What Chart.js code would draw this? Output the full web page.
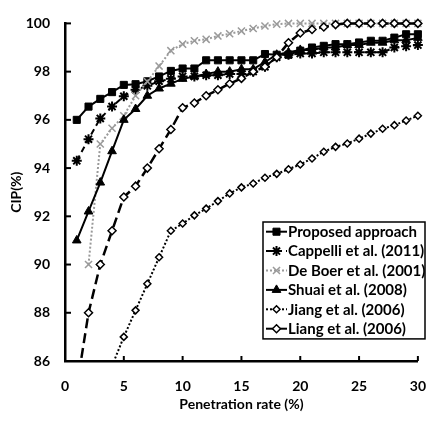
<!DOCTYPE html>
<html>
<head>
<meta charset="utf-8">
<script src="https://cdn.jsdelivr.net/npm/chart.js@4/dist/chart.umd.min.js"></script>
<style>
  html, body { margin: 0; padding: 0; background: #fff; }
</style>
</head>
<body>
<canvas id="chart" width="443" height="421"></canvas>
<script>
// penetration rate (%) on the x axis
const penetration = [1, 2, 3, 4, 5, 6, 7, 8, 9, 10, 11, 12, 13, 14, 15, 16, 17, 18, 19, 20, 21, 22, 23, 24, 25, 26, 27, 28, 29, 30];

// CIP (%) per method
const proposed = [96.0, 96.55, 96.87, 97.15, 97.45, 97.48, 97.6, 97.8, 98.03, 98.13, 98.13, 98.47, 98.47, 98.47, 98.47, 98.47, 98.73, 98.7, 98.7, 98.87, 99.0, 99.07, 99.14, 99.14, 99.21, 99.28, 99.28, 99.41, 99.55, 99.55];
const cappelli = [94.3, 95.2, 96.06, 96.55, 96.98, 97.25, 97.41, 97.6, 97.7, 97.8, 97.8, 97.85, 97.85, 97.9, 97.9, 98.0, 98.2, 98.6, 98.7, 98.75, 98.75, 98.8, 98.8, 98.8, 98.8, 98.8, 98.8, 99.0, 99.05, 99.1];
const deBoer = [null, 90.0, 95.0, 95.65, 96.17, 97.0, 97.59, 98.23, 98.87, 99.14, 99.28, 99.34, 99.48, 99.57, 99.68, 99.79, 99.89, 99.97, 100, 100, 100, 100, 100, 100, 100, 100, 100, 100, 100, 100];
const shuai = [91.0, 92.2, 93.4, 94.7, 96.0, 96.45, 97.0, 97.3, 97.5, 97.7, 97.8, 97.9, 98.0, 98.0, 98.1, 98.1, 98.4, 98.7, 98.8, 98.9, 98.9, 99.0, 99.0, 99.1, 99.1, 99.2, 99.2, 99.3, 99.3, 99.4];
const jiang = [null, null, null, 85.8, 87.0, 88.1, 89.2, 90.3, 91.4, 91.7, 92.04, 92.32, 92.63, 92.95, 93.2, 93.36, 93.6, 93.76, 93.95, 94.15, 94.4, 94.68, 94.88, 95.02, 95.22, 95.43, 95.63, 95.78, 95.97, 96.17];
const liang = [84.9, 88.0, 90.0, 91.4, 92.8, 93.25, 94.0, 94.8, 95.6, 96.5, 96.7, 97.0, 97.25, 97.5, 97.72, 98.0, 98.2, 98.6, 99.2, 99.6, 99.75, 99.85, 99.95, 100, 100, 100, 100, 100, 100, 100];

const seriesNames = ["Proposed approach", "Cappelli et al. (2011)", "De Boer et al. (2001)", "Shuai et al. (2008)", "Jiang et al. (2006)", "Liang et al. (2006)"];

const xTicks = [0, 5, 10, 15, 20, 25, 30];
const yTicks = [86, 88, 90, 92, 94, 96, 98, 100];

const FAMILY = "Lato, 'Liberation Sans', sans-serif";
const TICK_FONT = { family: FAMILY, size: 14, weight: "bold" };
const TITLE_FONT = { family: FAMILY, size: 14, weight: "bold" };
const LEGEND_FONT = { family: FAMILY, size: 15, weight: "bold" };

const toPoints = values => penetration.map((p, i) => ({ x: p, y: values[i] }));

const clipBox = { left: 10, top: 10, right: 10, bottom: 0 };

const datasets = [
  { label: seriesNames[0], data: toPoints(proposed), borderColor: "#000", backgroundColor: "#000",
    borderWidth: 2, pointStyle: "rect", pointRadius: 5, pointBorderWidth: 1, order: 6 },
  { label: seriesNames[1], data: toPoints(cappelli), borderColor: "#000", backgroundColor: "#000",
    borderWidth: 2, borderDash: [6, 4], pointStyle: "star", pointRadius: 5, pointBorderWidth: 2, order: 5 },
  { label: seriesNames[2], data: toPoints(deBoer), borderColor: "#9a9a9a", backgroundColor: "#9a9a9a",
    borderWidth: 2, borderDash: [2, 2], pointStyle: "crossRot", pointRadius: 5, pointBorderWidth: 1.5, order: 4 },
  { label: seriesNames[3], data: toPoints(shuai), borderColor: "#000", backgroundColor: "#000",
    borderWidth: 2, pointStyle: "triangle", pointRadius: 5, pointBorderWidth: 1, order: 3 },
  { label: seriesNames[4], data: toPoints(jiang), borderColor: "#000", backgroundColor: "#fff",
    borderWidth: 2, borderDash: [2, 2], pointStyle: "rectRot", pointRadius: 3.5, pointBorderWidth: 1.5, order: 2 },
  { label: seriesNames[5], data: toPoints(liang), borderColor: "#000", backgroundColor: "#fff",
    borderWidth: 2.5, borderDash: [10, 5], legendDash: [], pointStyle: "rectRot", pointRadius: 4, pointBorderWidth: 1.5, order: 1 }
].map(ds => ({ ...ds, pointBorderColor: ds.borderColor, pointBackgroundColor: ds.backgroundColor,
  tension: 0, spanGaps: false, clip: clipBox }));

// tick marks pointing into the plot, like the original
const insideTicks = {
  id: "insideTicks",
  afterDraw(chart) {
    const { ctx, chartArea, scales: { x, y } } = chart;
    ctx.save();
    ctx.strokeStyle = "#000";
    ctx.lineWidth = 2;
    xTicks.forEach(v => {
      const px = x.getPixelForValue(v);
      ctx.beginPath();
      ctx.moveTo(px, chartArea.bottom);
      ctx.lineTo(px, chartArea.bottom - 5);
      ctx.stroke();
    });
    yTicks.forEach(v => {
      const py = y.getPixelForValue(v);
      ctx.beginPath();
      ctx.moveTo(chartArea.left, py);
      ctx.lineTo(chartArea.left + 6, py);
      ctx.stroke();
    });
    ctx.restore();
  }
};

// boxed legend inside the plot area with line + marker samples
const boxLegend = {
  id: "boxLegend",
  afterDraw(chart) {
    const { ctx } = chart;
    const left = 263, top = 222, width = 162, rowH = 19.4;
    const height = rowH * chart.data.datasets.length + 0.5;
    ctx.save();
    ctx.fillStyle = "#fff";
    ctx.fillRect(left, top, width, height);
    ctx.strokeStyle = "#000";
    ctx.lineWidth = 1.5;
    ctx.strokeRect(left, top, width, height);
    chart.data.datasets.forEach((ds, i) => {
      const cy = top + rowH * (i + 0.5);
      ctx.save();
      ctx.strokeStyle = ds.borderColor;
      ctx.lineWidth = 2;
      ctx.setLineDash(ds.legendDash || ds.borderDash || []);
      ctx.beginPath();
      ctx.moveTo(left + 3, cy);
      ctx.lineTo(left + 24, cy);
      ctx.stroke();
      ctx.setLineDash([]);
      ctx.fillStyle = ds.pointBackgroundColor;
      ctx.strokeStyle = ds.pointBorderColor;
      ctx.lineWidth = ds.pointBorderWidth;
      Chart.helpers.drawPoint(ctx, { pointStyle: ds.pointStyle, radius: ds.pointRadius, borderWidth: ds.pointBorderWidth, rotation: 0 }, left + 13.5, cy);
      ctx.restore();
      ctx.fillStyle = "#000";
      ctx.font = `${LEGEND_FONT.weight} ${LEGEND_FONT.size}px ${LEGEND_FONT.family}`;
      ctx.textBaseline = "middle";
      ctx.textAlign = "left";
      ctx.fillText(ds.label, left + 25, cy + 0.5);
    });
    ctx.restore();
  }
};

new Chart(document.getElementById("chart"), {
  type: "line",
  data: { datasets },
  options: {
    responsive: false,
    animation: false,
    layout: { padding: { top: 15, right: 10, left: 0, bottom: 0 } },
    plugins: { legend: { display: false }, tooltip: { enabled: false } },
    scales: {
      x: {
        type: "linear",
        min: 0, max: 30,
        afterFit: s => { s.height = 60; },
        afterBuildTicks: s => { s.ticks = xTicks.map(v => ({ value: v })); },
        grid: { display: false, drawTicks: false },
        border: { display: true, color: "#000", width: 2.5 },
        ticks: { color: "#000", font: TICK_FONT, padding: 17, maxRotation: 0, autoSkip: false },
        title: { display: true, text: "Penetration rate (%)", color: "#000", font: TITLE_FONT, padding: { top: 0, bottom: 8 } }
      },
      y: {
        type: "linear",
        min: 86, max: 100,
        afterFit: s => { s.width = 65; },
        afterBuildTicks: s => { s.ticks = yTicks.map(v => ({ value: v })); },
        grid: { display: false, drawTicks: false },
        border: { display: true, color: "#000", width: 2.5 },
        ticks: { color: "#000", font: TICK_FONT, padding: 15, autoSkip: false },
        title: { display: true, text: "CIP(%)", color: "#000", font: TITLE_FONT, padding: { top: 8, bottom: 0 } }
      }
    }
  },
  plugins: [insideTicks, boxLegend]
});
</script>
</body>
</html>
